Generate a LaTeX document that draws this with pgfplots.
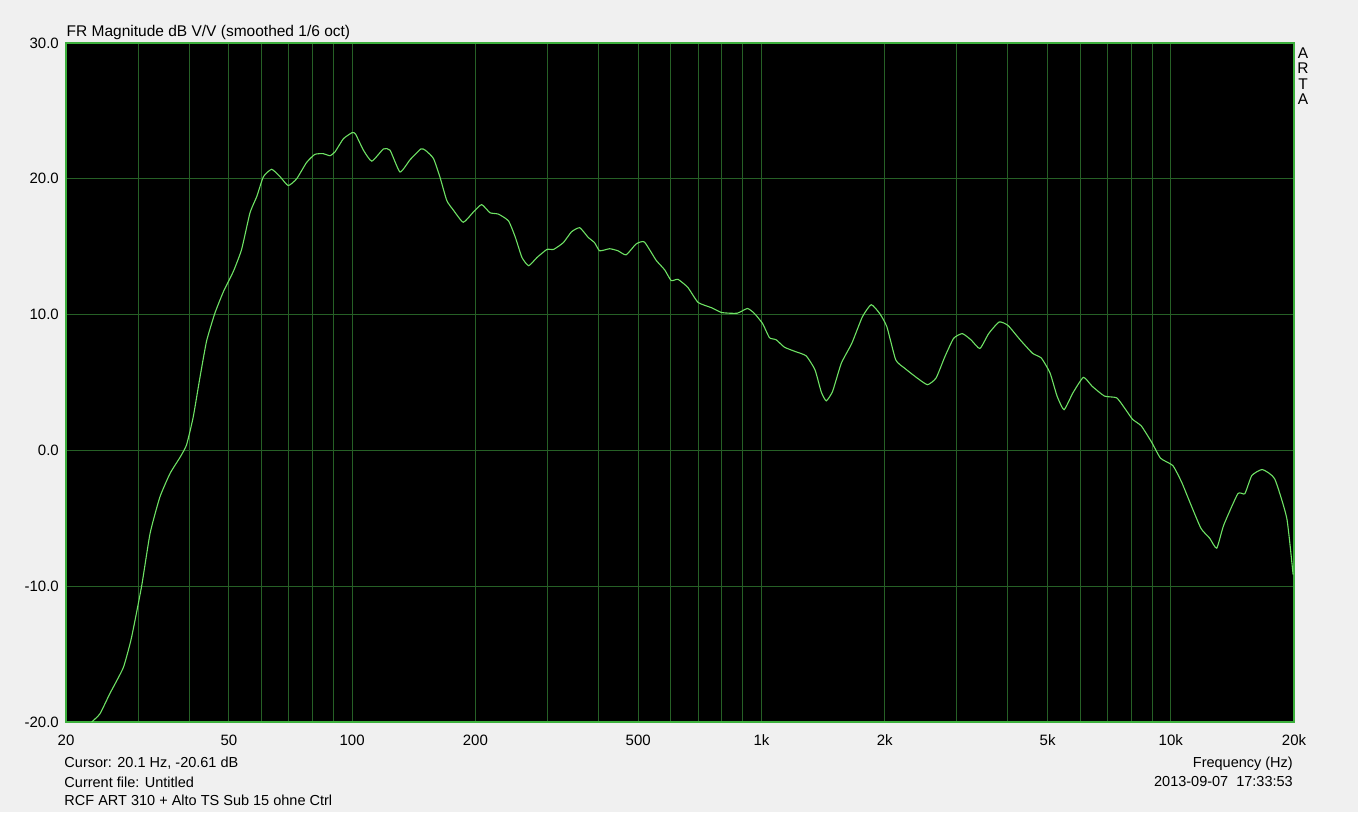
\documentclass[border=0pt]{standalone}
\usepackage{pgfplots}
\pgfplotsset{compat=1.18}
\usepackage{fontspec}
\setmainfont{Liberation Sans}
\definecolor{bgc}{RGB}{240,240,240}
\definecolor{gridc}{RGB}{38,96,38}
\definecolor{curvec}{RGB}{110,225,100}
\definecolor{framec}{RGB}{60,175,60}
\begin{document}
\begin{tikzpicture}
\fill[bgc] (-66pt,-90pt) rectangle (1292pt,722pt);
\begin{axis}[
  at={(0pt,0pt)}, anchor=south west,
  scale only axis, width=1228pt, height=679pt,
  xmode=log, xmin=20, xmax=20000, ymin=-20, ymax=30,
  axis background/.style={fill=black},
  axis line style={framec, line width=1.2pt},
  xtick={20,50,100,200,500,1000,2000,5000,10000,20000},
  xticklabels={20,50,100,200,500,1k,2k,5k,10k,20k},
  minor xtick={30,40,60,70,80,90,300,400,600,700,800,900,3000,4000,6000,7000,8000,9000},
  ytick={-20,-10,0,10,20,30},
  yticklabels={-20.0,-10.0,0.0,10.0,20.0,30.0},
  grid=both,
  major grid style={gridc, line width=0.9pt},
  minor grid style={gridc, line width=0.9pt},
  major tick length=0pt, minor tick length=0pt,
  tick style={draw=none},
  xticklabel style={anchor=base, inner sep=0pt, yshift=-23.5pt, font=\fontsize{15}{17}\selectfont},
  yticklabel style={anchor=east, inner sep=0pt, xshift=-7pt, font=\fontsize{15}{17}\selectfont},
  log basis x=10,
]
\addplot[curvec, line width=1.1pt, smooth, tension=0.3] coordinates {
(23.1,-20.0) (24.2,-19.4) (25.6,-17.9) (27.6,-16.0) (28.9,-13.8) (30.6,-10.0)
(32.1,-6.1) (33.9,-3.45) (35.9,-1.7) (38.0,-0.5) (39.4,0.4) (40.9,2.45)
(42.5,5.4) (44.1,8.05) (46.2,10.1) (48.5,11.7) (51.3,13.2) (53.7,14.8)
(56.3,17.5) (58.5,18.7) (60.7,20.15) (63.6,20.7) (66.7,20.15) (69.8,19.5)
(73.2,20.0) (77.4,21.2) (81.1,21.8) (85.0,21.85) (88.3,21.7) (90.9,22.0)
(95.2,22.95) (100,23.4) (101.9,23.3) (106.6,22.1) (111.7,21.3) (119.3,22.2)
(123.8,22.1) (130.9,20.5) (138.5,21.4) (147.2,22.2) (151,22.1) (158,21.5)
(164,20.1) (170.3,18.4) (176.7,17.7) (186.9,16.8) (197.8,17.55) (207.2,18.1)
(217.2,17.5) (227.6,17.4) (241,16.9) (250.4,15.7) (260,14.2) (270,13.6)
(282.8,14.2) (299.2,14.8) (310.6,14.8) (328.1,15.3) (343.6,16.1) (359.9,16.4)
(377,15.7) (391,15.3) (402.4,14.7) (425.6,14.85) (446,14.7) (467,14.4)
(494,15.2) (517.5,15.35) (553,14.0) (580,13.3) (602,12.5) (625,12.6)
(661,12.0) (700,10.9) (756,10.5) (800,10.15) (872,10.1) (924,10.45)
(960,10.1) (1006,9.35) (1046,8.3) (1086,8.15) (1138,7.6) (1212,7.27)
(1286,6.96) (1351,5.94) (1400,4.3) (1440,3.65) (1492,4.35) (1567,6.42)
(1662,7.88) (1764,9.83) (1854,10.73) (1946,10.07) (2025,9.1) (2128,6.67)
(2236,6.06) (2372,5.45) (2542,4.84) (2670,5.33) (2806,6.9) (2947,8.25)
(3096,8.6) (3253,8.13) (3417,7.5) (3590,8.6) (3808,9.46) (4002,9.2)
(4289,8.13) (4595,7.15) (4828,6.8) (5070,5.7) (5274,4.0) (5486,3.0)
(5765,4.23) (6117,5.38) (6426,4.72) (6886,4.0) (7378,3.87) (7752,3.02)
(8064,2.29) (8472,1.8) (8988,0.58) (9443,-0.58) (10117,-1.12) (10629,-2.34)
(11168,-3.92) (11849,-5.74) (12447,-6.47) (12948,-7.2) (13468,-5.5) (14580,-3.19)
(15166,-3.19) (15776,-1.85) (16736,-1.41) (17937,-2.09) (19206,-5.0) (19898,-9.15)
};
\end{axis}
\begin{scope}[every node/.style={inner sep=0pt, font=\fontsize{14.5}{17}\selectfont}]
\node[anchor=base west, font=\fontsize{15.5}{17}\selectfont] at (0.5pt,685.5pt) {FR Magnitude dB V/V (smoothed 1/6 oct)};
\node[anchor=base west] at (-1.7pt,-45.5pt) {Cursor: 20.1 Hz, -20.61 dB};
\node[anchor=base west] at (-1.7pt,-65.5pt) {Current file: Untitled};
\node[anchor=base west] at (-1.7pt,-83.3pt) {RCF ART 310 + Alto TS Sub 15 ohne Ctrl};
\node[anchor=base east] at (1227pt,-45.5pt) {Frequency (Hz)};
\node[anchor=base east] at (1227pt,-64.8pt) {2013-09-07\ \ 17:33:53};
\node[anchor=base, font=\fontsize{15.5}{17}\selectfont] at (1237pt,663.7pt) {A};
\node[anchor=base, font=\fontsize{15.5}{17}\selectfont] at (1237pt,648.2pt) {R};
\node[anchor=base, font=\fontsize{15.5}{17}\selectfont] at (1237pt,632.7pt) {T};
\node[anchor=base, font=\fontsize{15.5}{17}\selectfont] at (1237pt,617.2pt) {A};
\end{scope}
\end{tikzpicture}
\end{document}
